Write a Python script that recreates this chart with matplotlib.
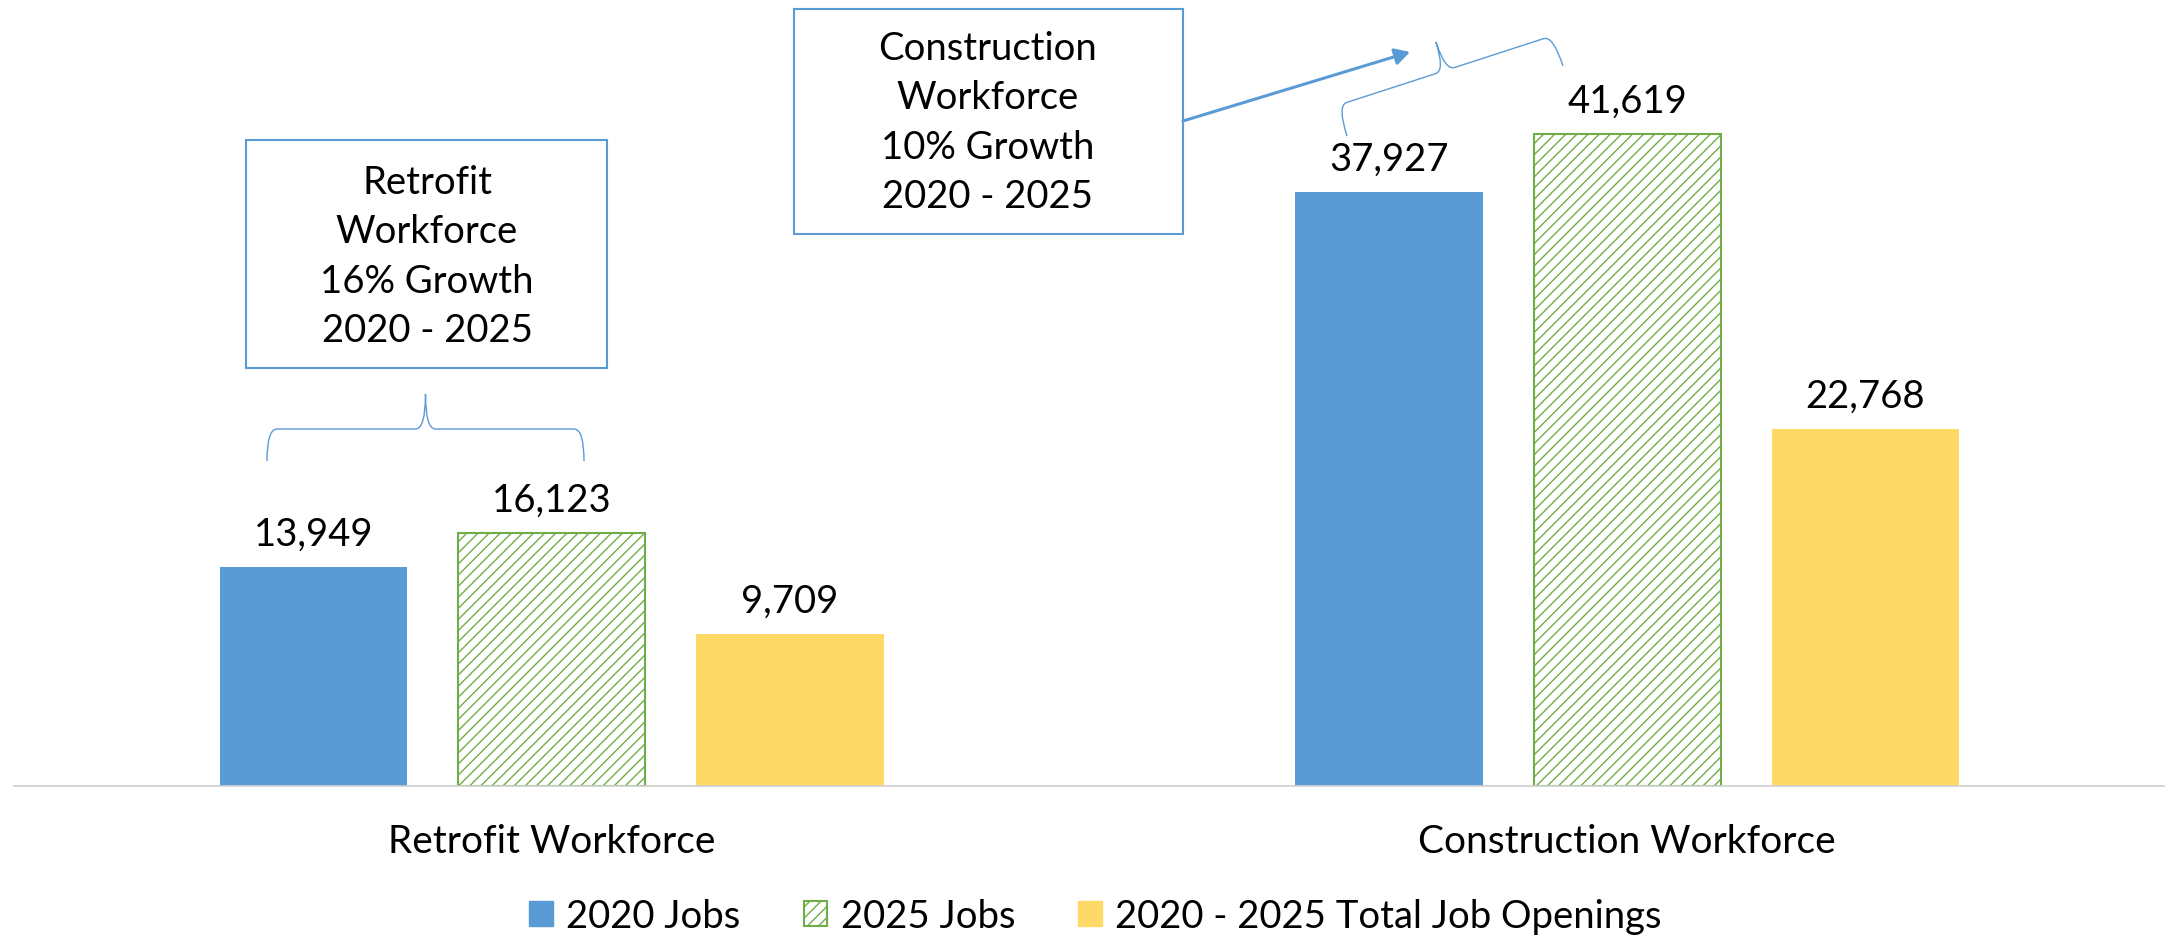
import numpy as np
import matplotlib
matplotlib.use("Agg")
import matplotlib.pyplot as plt
from matplotlib.patches import Patch, Rectangle, PathPatch, FancyArrowPatch
from matplotlib.path import Path
from matplotlib.transforms import Affine2D

# data
groups = ["Retrofit Workforce", "Construction Workforce"]
series = ["2020 Jobs", "2025 Jobs", "2020 - 2025 Total Job Openings"]
jobs_2020 = [13949, 37927]
jobs_2025 = [16123, 41619]
openings = [9709, 22768]

box_retrofit = "Retrofit\nWorkforce\n16% Growth\n2020 - 2025"
box_construction = "Construction\nWorkforce\n10% Growth\n2020 - 2025"

BLUE = "#5B9BD5"
GREEN = "#70AD47"
GOLD = "#FFD966"

plt.rcParams["font.family"] = ["Lato", "DejaVu Sans"]
plt.rcParams["hatch.linewidth"] = 1.0
plt.rcParams["hatch.color"] = GREEN

W, H = 2165, 937
fig = plt.figure(figsize=(W / 100, H / 100), dpi=100)
ax = fig.add_axes([14 / W, (H - 787) / H, 1 - 14 / W, 787 / H])

x = np.arange(len(groups))
bw = 0.174
off = 0.2215
b1 = ax.bar(x - off, jobs_2020, bw, color=BLUE)
b2 = ax.bar(x, jobs_2025, bw, facecolor="white", edgecolor=GREEN, hatch="///", linewidth=1.5)
b3 = ax.bar(x + off, openings, bw, color=GOLD)
for b in (b1, b2, b3):
    ax.bar_label(b, labels=[f"{v:,}" for v in b.datavalues], padding=11, fontsize=27.5)

ax.set_xlim(-0.5, 1.5)
ax.set_ylim(0, 50220)
ax.set_yticks([])
ax.set_xticks(x)
ax.set_xticklabels(groups, fontsize=28)
ax.tick_params(axis="x", length=0, pad=27)
for s in ("top", "left", "right"):
    ax.spines[s].set_visible(False)
ax.spines["bottom"].set_color("#D0D0D0")
ax.spines["bottom"].set_linewidth(1.2)

handles = [Patch(facecolor=BLUE, edgecolor=BLUE),
           Patch(facecolor="white", edgecolor=GREEN, hatch="///", linewidth=1.5),
           Patch(facecolor=GOLD, edgecolor=GOLD)]
fig.legend(handles, series, loc="center", bbox_to_anchor=(0.506, 1 - 917 / H), ncol=3,
           frameon=False, fontsize=27.5, handlelength=0.62, handleheight=0.62,
           handletextpad=0.35, columnspacing=1.65)

# annotation shapes in pixel coordinates (y down)
px = Affine2D().scale(1 / W, -1 / H).translate(0, 1) + fig.transFigure


def brace(p0, p1, d, t, r=10):
    p0 = np.array(p0, float)
    p1 = np.array(p1, float)
    u = (p1 - p0) / np.linalg.norm(p1 - p0)
    n = np.array([u[1], -u[0]])  # outward (up on screen)
    L = np.linalg.norm(p1 - p0)

    def P(a, b):
        return p0 + u * a + n * b

    verts = [P(0, 0), P(0, d), P(r, d),
             P(L / 2 - r, d), P(L / 2, d), P(L / 2, d + t),
             P(L / 2, d), P(L / 2 + r, d),
             P(L - r, d), P(L, d), P(L, 0)]
    codes = [Path.MOVETO, Path.CURVE3, Path.CURVE3,
             Path.LINETO, Path.CURVE3, Path.CURVE3,
             Path.CURVE3, Path.CURVE3,
             Path.LINETO, Path.CURVE3, Path.CURVE3]
    fig.add_artist(PathPatch(Path(verts, codes), facecolor="none", edgecolor=BLUE,
                             linewidth=1.0, transform=px))


brace((267, 462), (584, 462), 32, 35)
brace((1347, 137), (1563, 67), 32, 30)

fig.add_artist(Rectangle((246, 141), 361, 228, facecolor="white", edgecolor=BLUE,
                         linewidth=1.5, transform=px))
fig.text(427, 257, box_retrofit, transform=px, ha="center", va="center",
         fontsize=27.5, linespacing=1.47)

fig.add_artist(Rectangle((794, 10), 389, 225, facecolor="white", edgecolor=BLUE,
                         linewidth=1.5, transform=px))
fig.text(988, 123, box_construction, transform=px, ha="center", va="center",
         fontsize=27.5, linespacing=1.47)

fig.add_artist(FancyArrowPatch((1183, 122), (1410, 53), transform=px, color=BLUE,
                               arrowstyle="-|>,head_length=9,head_width=5",
                               linewidth=2.2, shrinkA=0, shrinkB=0))

fig.savefig("out.png", dpi=100)
